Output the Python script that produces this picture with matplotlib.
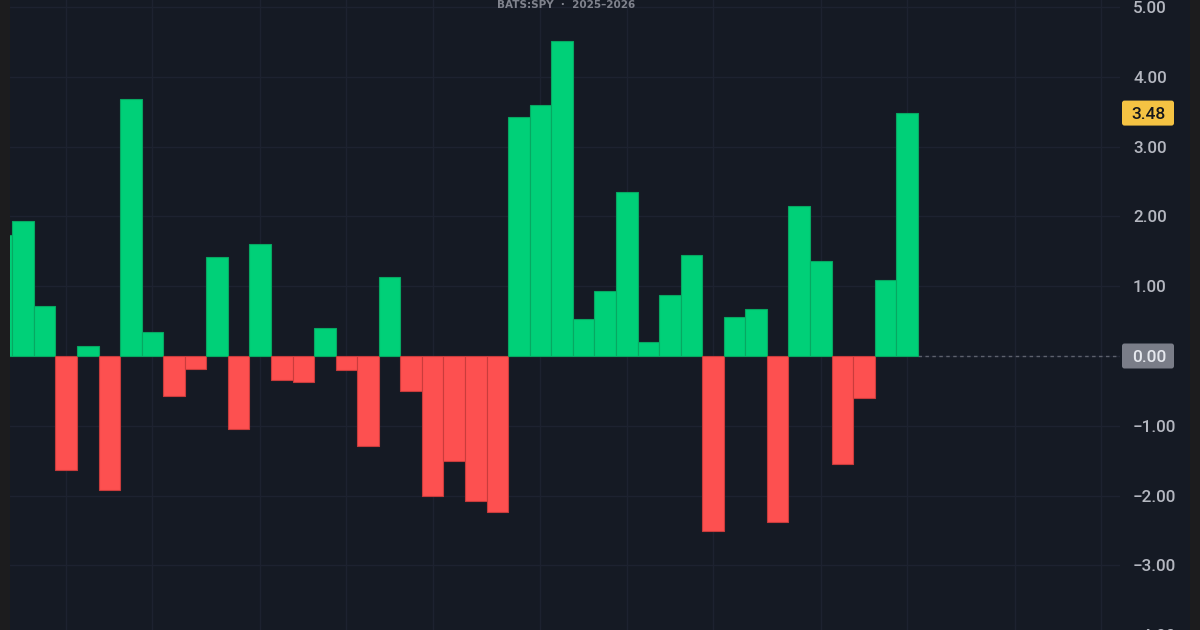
import matplotlib.pyplot as plt
from matplotlib.patches import Rectangle, FancyBboxPatch
from matplotlib import transforms

# -----------------------------
# DATA (weekly change, BATS:SPY)
# -----------------------------
weeks = list(range(43))
values = [1.74, 1.93, 0.71, -1.63, 0.14, -1.92, 3.68, 0.34, -0.58, -0.19,
          1.42, -1.05, 1.60, -0.35, -0.37, 0.40, -0.20, -1.29, 1.13, -0.50,
          -2.00, -1.50, -2.08, -2.23, 3.42, 3.60, 4.51, 0.53, 0.93, 2.35,
          0.20, 0.87, 1.45, -2.50, 0.56, 0.67, -2.38, 2.15, 1.36, -1.55,
          -0.60, 1.09, 3.48]
month_starts = [3, 7, 12, 16, 20, 25, 29, 33, 38, 42, 47, 51]
levels = [5, 4, 3, 2, 1, 0, -1, -2, -3, -4]
level_labels = ["5.00", "4.00", "3.00", "2.00", "1.00", "",
                "\u22121.00", "\u22122.00", "\u22123.00", "\u22124.00"]
title = "BATS:SPY  \u00b7  2025\u20132026"
last_value = 3.48

# -----------------------------
# STYLE
# -----------------------------
W, H = 1200, 630
BG = "#151a24"
FRAME = "#1c1c1e"
GRID = "#1d2230"
GREEN = "#00d078"
GREEN_EDGE = "#07a862"
RED = "#fd5050"
RED_EDGE = "#c93c3c"
LABEL = "#b4b7c0"

fig = plt.figure(figsize=(12, 6.3), dpi=100)
fig.patch.set_facecolor(FRAME)
fig.add_artist(Rectangle((10 / W, 0), 1180 / W, 1, transform=fig.transFigure,
                         facecolor=BG, edgecolor="none", zorder=-10))

ax = fig.add_axes([10 / W, -30 / H, 1110 / W, 660 / H])
ax.set_facecolor(BG)

colors = [GREEN if v >= 0 else RED for v in values]
edges = [GREEN_EDGE if v >= 0 else RED_EDGE for v in values]
ax.bar(weeks, values, width=1.0, color=colors, edgecolor=edges, linewidth=0.8, zorder=3)

ax.set_xlim(0.394, 51.88)
ax.set_ylim(-4.355, 5.10)

ax.yaxis.tick_right()
ax.set_yticks(levels, level_labels)
ax.set_xticks(month_starts)
ax.tick_params(axis="x", length=0, labelbottom=False)
ax.tick_params(axis="y", length=0, pad=9.4, labelsize=12.3, labelcolor=LABEL)
for t in ax.get_yticklabels():
    t.set_fontfamily("Roboto")
    t.set_fontweight("medium")
ax.grid(True, color=GRID, linewidth=1)
ax.set_axisbelow(True)
for s in ax.spines.values():
    s.set_visible(False)

# dotted zero line after the last bar
ax.plot([weeks[-1] + 0.5, 51.88], [0, 0], color="#5d616d", linewidth=1,
        linestyle=(0, (2.5, 2.5)), zorder=2)

# -----------------------------
# PRICE TAGS ON THE SCALE
# -----------------------------
mix = transforms.blended_transform_factory(fig.transFigure, ax.transData)
px = 1 / 69.8


def tag(y, text, face, txt):
    box = FancyBboxPatch((1122 / W, y - 12.5 * px), 52 / W, 25 * px,
                         boxstyle="round,pad=0,rounding_size=%f" % (2.5 / W),
                         mutation_aspect=(W * px), transform=mix,
                         facecolor=face, edgecolor="none", zorder=5)
    fig.add_artist(box)
    fig.text(1149 / W, y, text, transform=mix, ha="center", va="center_baseline",
             fontsize=12.5, color=txt, family="Roboto", fontweight="medium", zorder=6)


tag(last_value, "%.2f" % last_value, "#f5c343", "#15171c")
tag(0, "0.00", "#7a7d88", "#e6e8ee")

fig.text(566 / W, 1 - 4.7 / H, title, ha="center", va="center",
         fontsize=7.5, color="#80838d", fontweight="bold")

fig.savefig("out.png", dpi=100, facecolor=fig.get_facecolor())
